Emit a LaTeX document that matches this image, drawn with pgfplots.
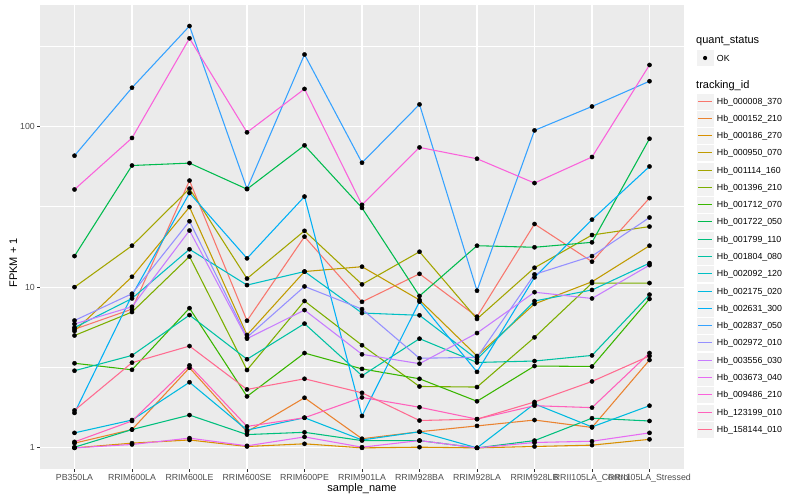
\documentclass[border=0pt]{standalone}
\usepackage{pgfplots}
\pgfplotsset{compat=1.18}
\usepackage{pgfplotstable}
\usepackage{fontspec}
\setmainfont{Liberation Sans}

\definecolor{panel}{HTML}{EBEBEB}
\definecolor{keybg}{HTML}{F2F2F2}
\definecolor{tickgray}{HTML}{333333}
\definecolor{labgray}{HTML}{4D4D4D}
% ggplot hue palette, 20 levels
\definecolor{c000008}{HTML}{F8766D}
\definecolor{c000152}{HTML}{EA8331}
\definecolor{c000186}{HTML}{D89000}
\definecolor{c000950}{HTML}{C09B00}
\definecolor{c001114}{HTML}{A3A500}
\definecolor{c001396}{HTML}{7CAE00}
\definecolor{c001712}{HTML}{39B600}
\definecolor{c001722}{HTML}{00BB4E}
\definecolor{c001799}{HTML}{00BF7D}
\definecolor{c001804}{HTML}{00C1A3}
\definecolor{c002092}{HTML}{00BFC4}
\definecolor{c002175}{HTML}{00BAE0}
\definecolor{c002631}{HTML}{00B0F6}
\definecolor{c002837}{HTML}{35A2FF}
\definecolor{c002972}{HTML}{9590FF}
\definecolor{c003556}{HTML}{C77CFF}
\definecolor{c003673}{HTML}{E76BF3}
\definecolor{c009486}{HTML}{FA62DB}
\definecolor{c123199}{HTML}{FF62BC}
\definecolor{c158144}{HTML}{FF6C91}

% FPKM + 1 per sample (x = sample index, 1..11)
\pgfplotstableread{
x  h000008 h000152 h000186 h000950 h001114 h001396 h001712 h001722 h001799 h001804 h002092 h002175 h002631 h002837 h002972 h003556 h003673 h009486 h123199 h158144
1  5.47 1.07 1.00 5.33 10.0 5.00 3.36 15.6 1.01 3.02 5.60 1.24 1.65 65.7 6.20 5.90 1.00 40.5 1.09 1.71
2  7.30 1.30 1.07 11.6 18.1 7.00 3.06 57.1 1.30 3.76 8.50 1.49 8.90 174  9.10 7.55 1.05 84.7 1.47 3.39
3  46.0 3.15 1.12 31.5 41.0 15.5 7.40 59.1 1.60 6.70 17.2 2.56 38.5 421  25.7 22.5 1.15 353  3.26 4.30
4  6.18 1.26 1.02 5.04 11.3 3.05 2.09 40.7 1.21 3.56 10.3 1.29 15.1 40.9 4.87 4.78 1.03 91.8 1.36 2.31
5  20.6 2.05 1.06 12.5 22.4 8.20 3.89 76.2 1.25 5.93 12.5 1.54 36.6 280  10.1 7.20 1.17 171  1.54 2.69
6  8.10 1.14 1.00 13.4 10.4 4.35 3.10 31.1 1.11 2.81 6.90 1.12 1.58 59.4 7.30 3.82 1.01 32.5 2.06 2.20
7  12.1 1.26 1.01 8.32 16.6 2.41 2.69 8.81 1.11 4.78 6.68 1.26 8.12 137  3.61 3.34 1.11 74.0 1.79 1.48
8  6.55 1.37 1.00 3.73 6.34 2.39 1.95 18.1 1.00 3.40 3.56 1.00 2.97 9.50 3.66 5.18 1.00 62.9 1.51 1.51
9  24.7 1.49 1.02 7.86 13.2 4.87 3.23 17.7 1.11 3.47 8.20 1.88 11.5 94.4 12.0 9.30 1.08 44.4 1.83 1.93
10 14.4 1.34 1.04 10.8 21.1 10.6 3.21 19.0 1.53 3.76 9.60 1.35 26.3 133  15.6 8.50 1.10 64.5 1.78 2.59
11 35.8 3.52 1.13 18.1 23.8 10.6 8.44 83.8 1.47 8.98 14.1 1.83 56.3 191  27.1 13.7 1.24 241  3.89 3.73
}\fpkm

\begin{document}
\begin{tikzpicture}
\path[use as bounding box, fill=white] (0,0) rectangle (800pt,500pt);
\begin{axis}[
    at={(40pt,31pt)}, anchor=south west,
    scale only axis, width=644pt, height=464pt,
    ymode=log,
    xmin=0.4, xmax=11.6, ymin=0.739, ymax=569,
    axis background/.style={fill=panel},
    axis line style={draw=none},
    tick pos=left, tick align=outside,
    major tick length=2.75pt, minor tick length=0pt,
    tick style={tickgray, line width=0.9pt},
    xtick={1,...,11},
    xticklabels={PB350LA,RRIM600LA,RRIM600LE,RRIM600SE,RRIM600PE,RRIM901LA,RRIM928BA,RRIM928LA,RRIM928LB,RRII105LA\_Control,RRII105LA\_Stressed},
    ytick={1,10,100},
    yticklabels={1,10,100},
    minor ytick={3.1623,31.623,316.23},
    xmajorgrids, ymajorgrids, yminorgrids,
    major grid style={white, line width=1.07pt},
    minor grid style={white, line width=0.53pt},
    ticklabel style={font=\fontsize{8.8}{10}\selectfont, text=labgray},
    xticklabel style={inner sep=0pt, anchor=north, yshift=-2.2pt},
    yticklabel style={inner sep=0pt, anchor=east, xshift=-2.2pt},
]
\pgfplotsinvokeforeach{000008,000152,000186,000950,001114,001396,001712,001722,001799,001804,002092,002175,002631,002837,002972,003556,003673,009486,123199,158144}{
  \addplot[c#1, line width=1.07pt, no markers] table[x=x, y=h#1] {\fpkm};
}
\pgfplotsinvokeforeach{000008,000152,000186,000950,001114,001396,001712,001722,001799,001804,002092,002175,002631,002837,002972,003556,003673,009486,123199,158144}{
  \addplot[only marks, mark=*, mark size=2.1pt, black] table[x=x, y=h#1] {\fpkm};
}
\end{axis}

% axis titles
\node[anchor=base, font=\fontsize{11}{13}\selectfont] at (362pt,8.5pt) {sample\_name};
\node[anchor=base, rotate=90, font=\fontsize{11}{13}\selectfont] at (17pt,237pt) {FPKM + 1};

% legend: quant_status
\node[anchor=base west, inner sep=0pt, font=\fontsize{11}{13}\selectfont] at (696pt,456.5pt) {quant\_status};
\filldraw[fill=keybg, draw=white, line width=0.5pt] (696.5pt,433.4pt) rectangle (713.8pt,450.6pt);
\fill[black] (705.1pt,442pt) circle (2.1pt);
\node[anchor=base west, inner sep=0pt, font=\fontsize{8.8}{10}\selectfont] at (716.7pt,438.85pt) {OK};

% legend: tracking_id (key centres snapped to pixel centres)
\node[anchor=base west, inner sep=0pt, font=\fontsize{11}{13}\selectfont] at (696pt,411.7pt) {tracking\_id};
\foreach \id/\suf [count=\i from 0] in {000008/370,000152/210,000186/270,000950/070,001114/160,001396/210,001712/070,001722/050,001799/110,001804/080,002092/120,002175/020,002631/300,002837/050,002972/010,003556/030,003673/040,009486/210,123199/010,158144/010}{
  \pgfmathsetmacro\yc{500-(floor(101+\i*17.28)+0.5)}
  \filldraw[fill=keybg, draw=white, line width=0.5pt] (696.5pt,\yc pt-8.64pt) rectangle (713.8pt,\yc pt+8.64pt);
  \draw[c\id, line width=1.3pt] (698.2pt,\yc pt) -- (712.1pt,\yc pt);
  \node[anchor=base west, inner sep=0pt, font=\fontsize{8.8}{10}\selectfont] at (716.7pt,\yc pt-3.15pt) {Hb\_\id\_\suf};
}
\end{tikzpicture}
\end{document}
